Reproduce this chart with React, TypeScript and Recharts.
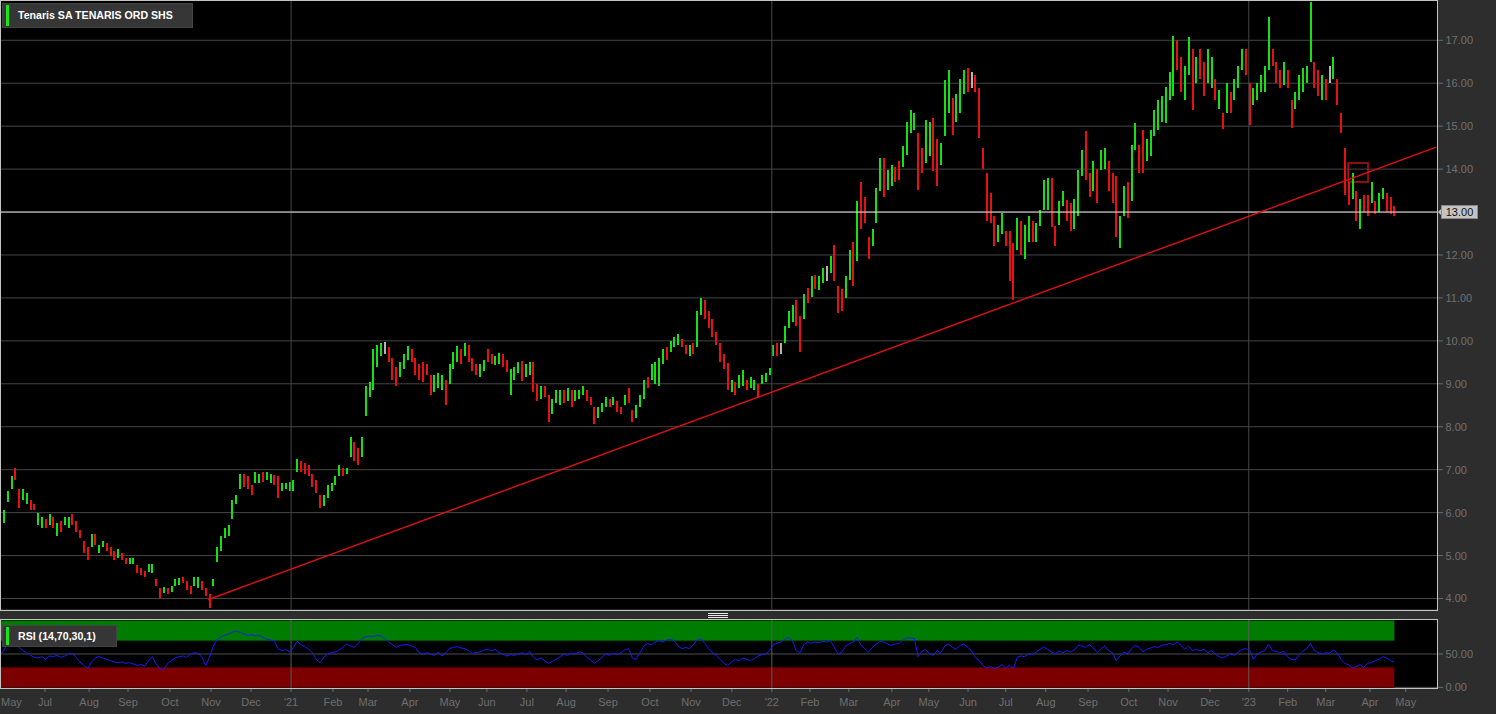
import React from 'react';
import {
  ComposedChart,
  Bar,
  Line,
  Area,
  XAxis,
  YAxis,
  CartesianGrid,
  ReferenceLine,
  ReferenceArea,
} from 'recharts';

// One bar per two trading sessions, May 2020 -> Apr 2023 (Tenaris SA)
const BAR_LOWS = [
  5.6, 5.75, 6.25, 6.55, 6.75, 6.1, 6.3, 6.2, 6.05, 6.05,
  5.7, 5.65, 5.65, 5.7, 5.65, 5.45, 5.55, 5.7, 5.65, 5.7,
  5.55, 5.4, 5.05, 4.9, 5.2, 5.25, 5.05, 5.2, 5.1, 5.0,
  4.9, 4.95, 4.9, 4.8, 4.8, 4.8, 4.6, 4.55, 4.5, 4.62,
  4.6, 4.3, 4.0, 4.12, 4.1, 4.15, 4.3, 4.32, 4.35, 4.2,
  4.1, 4.3, 4.25, 4.2, 4.05, 3.78, 4.3, 4.85, 5.1, 5.4,
  5.45, 5.85, 6.2, 6.55, 6.6, 6.55, 6.4, 6.7, 6.7, 6.72,
  6.75, 6.7, 6.65, 6.35, 6.5, 6.55, 6.5, 6.5, 6.95, 6.95,
  6.9, 6.85, 6.6, 6.45, 6.1, 6.15, 6.35, 6.5, 6.65, 6.85,
  6.85, 6.9, 7.3, 7.2, 7.1, 7.3, 8.25, 8.7, 8.85, 9.4,
  9.65, 9.7, 9.5, 9.1, 8.95, 9.15, 9.35, 9.55, 9.5, 9.2,
  9.1, 9.05, 9.2, 8.75, 8.8, 8.9, 8.85, 8.5, 9.0, 9.35,
  9.5, 9.45, 9.65, 9.5, 9.3, 9.2, 9.15, 9.3, 9.5, 9.45,
  9.43, 9.45, 9.4, 9.27, 8.73, 9.1, 9.25, 9.07, 9.15, 9.2,
  8.8, 8.6, 8.65, 8.7, 8.1, 8.3, 8.55, 8.5, 8.55, 8.6,
  8.45, 8.6, 8.65, 8.73, 8.6, 8.5, 8.07, 8.2, 8.35, 8.45,
  8.45, 8.5, 8.35, 8.3, 8.5, 8.55, 8.1, 8.2, 8.45, 8.65,
  8.9, 9.08, 9.0, 8.95, 9.45, 9.55, 9.75, 9.85, 9.9, 9.85,
  9.7, 9.65, 9.7, 9.85, 10.6, 10.5, 10.3, 10.1, 9.9, 9.5,
  9.35, 8.86, 8.8, 8.75, 8.9, 8.95, 8.85, 8.9, 8.85, 8.7,
  9.0, 9.05, 9.2, 9.64, 9.65, 9.7, 9.95, 10.3, 10.45, 10.35,
  9.75, 10.5, 10.88, 11.03, 11.2, 11.19, 11.35, 11.4, 11.58, 11.4,
  10.65, 10.7, 11.0, 11.42, 11.27, 11.85, 12.6, 12.75, 11.9, 12.2,
  12.74, 13.48, 13.36, 13.52, 13.6, 13.7, 13.75, 14.06, 14.33, 14.84,
  14.9, 13.52, 13.9, 14.14, 14.3, 13.95, 13.6, 14.1, 14.76, 15.3,
  14.8, 15.1, 15.3, 15.75, 15.8, 15.9, 15.8, 14.72, 14.0, 12.8,
  12.74, 12.2, 12.3, 12.5, 12.2, 11.4, 10.96, 12.12, 12.0, 11.9,
  12.3, 12.3, 12.3, 12.67, 13.05, 13.05, 12.65, 12.2, 12.7, 13.13,
  12.8, 12.55, 12.6, 12.9, 13.83, 13.75, 13.36, 13.5, 13.2, 13.98,
  14.0, 13.5, 13.2, 12.43, 12.16, 12.9, 12.85, 13.25, 14.45, 13.9,
  13.9, 14.2, 14.3, 14.76, 14.9, 15.1, 15.07, 15.6, 15.7, 16.3,
  15.8, 15.6, 16.2, 15.38, 16.0, 16.1, 15.7, 16.0, 15.9, 15.6,
  15.4, 14.93, 15.3, 15.3, 15.6, 15.9, 16.3, 16.2, 15.03, 15.5,
  15.6, 15.8, 15.8, 16.3, 16.4, 16.0, 15.9, 15.95, 15.9, 14.95,
  15.4, 15.6, 15.8, 16.0, 16.5, 15.9, 15.7, 15.6, 15.6, 16.0,
  16.1, 15.5, 14.84, 13.4, 13.17, 13.3, 12.8, 12.6, 13.0, 12.9,
  13.2, 12.95, 13.0, 13.3, 13.0, 12.95, 12.9,
];

const BAR_HIGHS = [
  5.9, 6.05, 6.5, 6.85, 7.05, 6.55, 6.55, 6.45, 6.3, 6.2,
  6.0, 5.9, 5.85, 5.97, 5.9, 5.75, 5.8, 5.9, 5.9, 5.97,
  5.8, 5.6, 5.35, 5.2, 5.5, 5.5, 5.25, 5.35, 5.3, 5.2,
  5.1, 5.15, 5.05, 4.95, 4.95, 4.95, 4.78, 4.7, 4.65, 4.8,
  4.8, 4.45, 4.25, 4.27, 4.25, 4.3, 4.45, 4.48, 4.5, 4.4,
  4.3, 4.5, 4.5, 4.4, 4.25, 4.1, 4.45, 5.2, 5.45, 5.65,
  5.7, 6.3, 6.4, 6.9, 6.9, 6.85, 6.65, 6.95, 6.9, 6.95,
  6.95, 6.9, 6.88, 6.85, 6.7, 6.7, 6.72, 6.75, 7.25, 7.2,
  7.15, 7.1, 6.9, 6.75, 6.4, 6.4, 6.65, 6.7, 6.85, 7.1,
  7.05, 7.05, 7.75, 7.65, 7.5, 7.75, 8.95, 9.05, 9.8, 9.9,
  9.95, 9.98, 9.85, 9.6, 9.4, 9.5, 9.7, 9.88, 9.8, 9.6,
  9.45, 9.5, 9.45, 9.2, 9.2, 9.25, 9.2, 9.1, 9.45, 9.75,
  9.88, 9.8, 9.95, 9.9, 9.6, 9.45, 9.45, 9.55, 9.8, 9.7,
  9.65, 9.72, 9.7, 9.55, 9.35, 9.4, 9.5, 9.54, 9.45, 9.5,
  9.5, 9.0, 8.95, 8.95, 8.75, 8.65, 8.85, 8.85, 8.85, 8.9,
  8.85, 8.85, 8.85, 8.96, 8.85, 8.7, 8.46, 8.45, 8.55, 8.7,
  8.65, 8.7, 8.6, 8.45, 8.75, 8.9, 8.4, 8.5, 8.75, 9.08,
  9.15, 9.45, 9.5, 9.6, 9.8, 9.85, 10.0, 10.1, 10.15, 10.05,
  9.9, 9.9, 9.95, 10.7, 11.0, 10.95, 10.7, 10.5, 10.2, 9.95,
  9.7, 9.48, 9.1, 9.05, 9.2, 9.33, 9.1, 9.15, 9.1, 9.0,
  9.2, 9.25, 9.37, 9.9, 9.95, 9.95, 10.34, 10.7, 10.84, 10.95,
  10.57, 11.1, 11.23, 11.5, 11.54, 11.5, 11.7, 11.75, 11.97, 12.24,
  11.27, 11.2, 11.5, 12.12, 12.3, 13.25, 13.7, 13.36, 12.43, 12.6,
  13.55, 14.25, 14.25, 13.98, 14.1, 14.05, 14.2, 14.53, 15.1, 15.38,
  15.3, 14.84, 14.5, 15.15, 15.1, 15.2, 14.7, 14.6, 16.08, 16.3,
  15.65, 15.75, 16.1, 16.3, 16.35, 16.25, 16.2, 15.9, 14.5, 13.9,
  13.44, 12.9, 12.7, 12.98, 12.55, 12.55, 12.28, 12.86, 12.8, 12.7,
  12.9, 12.8, 12.75, 13.05, 13.75, 13.8, 13.8, 12.67, 13.25, 13.5,
  13.29, 13.2, 13.3, 13.98, 14.45, 14.88, 13.9, 14.2, 14.0, 14.45,
  14.5, 14.2, 13.9, 13.83, 12.9, 13.6, 13.7, 14.57, 15.07, 14.57,
  14.9, 14.7, 14.9, 15.38, 15.6, 15.7, 15.92, 16.27, 17.1, 17.0,
  16.6, 16.4, 17.08, 16.8, 16.6, 16.8, 16.5, 16.8, 16.6, 16.1,
  15.85, 15.3, 16.0, 15.8, 16.1, 16.4, 16.8, 16.8, 16.0, 15.9,
  16.0, 16.2, 16.4, 17.55, 16.8, 16.5, 16.3, 16.5, 16.3, 15.6,
  15.8, 16.2, 16.35, 16.4, 17.88, 16.5, 16.3, 16.2, 16.1, 16.4,
  16.6, 16.1, 15.3, 14.5, 13.7, 13.9, 13.5, 13.3, 13.4, 13.4,
  13.7, 13.25, 13.45, 13.55, 13.45, 13.35, 13.15,
];

// g = up (green), r = down (red), w = neutral (grey)
const BAR_TONES =
  'rgggrrggrr' + 'ggrgrgrggr' + 'rrrrgrggrr' + 'rgrrggrrrg' + 'grrgrgggrr' +
  'rggrrrgggg' + 'ggggrrrggr' + 'ggrrgggggr' + 'rrrrrggggg' + 'rggrrggggg' +
  'gwrrrgggrr' + 'rrrrgggrgg' + 'grgrrrggrr' + 'ggrrgggrgg' + 'rrgrrgggrg' +
  'rgggrrrggg' + 'rgrrgrrggg' + 'rggggrgggr' + 'rgrggrrrrr' + 'rrgrggrggr' +
  'ggggrwgggr' + 'rgrgrggwgr' + 'rrggrgrrrg' + 'ggrggrrggg' + 'grrggrrggg' +
  'rgggrwrrrr' + 'rrggrrrgrg' + 'grggggrrgg' + 'rrgggrrgrg' + 'grrrggrggr' +
  'rggggggggr' + 'rggrgrrggr' + 'grgrgggrrg' + 'ggggrrrgrr' + 'gggggrrgrw' +
  'grrrrgrgrr' + 'grggrrr';

const RSI_VALUES = [
  48, 55, 68, 74, 72, 60, 55, 52, 48, 45,
  44, 46, 42, 47, 46, 48, 45, 47, 50, 51,
  45, 38, 33, 28, 38, 44, 46, 44, 42, 40,
  38, 37, 38, 36, 37, 35, 33, 34, 32, 40,
  46, 35, 28, 27, 36, 40, 44, 46, 47, 45,
  50, 52, 51, 45, 33, 45, 62, 72, 76, 78,
  80, 83, 84, 83, 80, 78, 79, 77, 78, 75,
  72, 71, 70, 58, 55, 57, 53, 60, 69, 64,
  61, 57, 52, 42, 37, 45, 50, 52, 53, 56,
  60, 65, 62, 60, 66, 73, 76, 77, 76, 78,
  77, 73, 68, 64, 60, 63, 64, 64, 62, 60,
  52, 50, 52, 50, 48, 53, 47, 52, 58, 60,
  61, 59, 58, 55, 51, 52, 53, 56, 57, 55,
  57, 52, 50, 47, 49, 48, 50, 52, 49, 54,
  45, 41, 44, 40, 36, 39, 42, 46, 50, 48,
  51, 50, 53, 52, 45, 41, 36, 40, 45, 50,
  48, 51, 49, 52, 56, 58, 44, 42, 52, 62,
  66, 64, 68, 70, 68, 71, 72, 70, 62, 58,
  60, 58, 64, 71, 73, 66, 58, 52, 48, 42,
  36, 33, 38, 42, 40, 44, 42, 40, 43, 47,
  49, 50, 55, 64, 66, 68, 72, 75, 70, 55,
  52, 64, 68, 66, 68, 67, 69, 68, 70, 60,
  50, 53, 62, 66, 68, 75, 63, 58, 53, 60,
  65, 69, 68, 65, 63, 65, 66, 71, 74, 74,
  73, 46, 54, 57, 50, 48, 55, 52, 62, 65,
  60, 57, 63, 65, 60, 55, 45, 40, 33, 29,
  31, 28, 30, 34, 29, 33, 28, 45, 47, 46,
  50, 49, 53, 57, 61, 57, 53, 50, 54, 52,
  55, 53, 56, 63, 62, 60, 64, 59, 52, 58,
  62, 55, 52, 40, 47, 53, 50, 58, 63, 60,
  53, 57, 59, 61, 60, 63, 64, 66, 64, 68,
  63, 57, 62, 55, 57, 55, 57, 52, 55, 50,
  46, 44, 47, 50, 48, 53, 57, 58, 56, 42,
  50, 53, 55, 65, 55, 54, 52, 54, 46, 42,
  41, 48, 54, 58, 66, 55, 52, 50, 52, 51,
  56, 52, 42, 36, 34, 29, 31, 34, 30, 36,
  37, 40, 42, 46, 44, 40, 38,
];

const PRICE_TICKS = [4, 5, 6, 7, 8, 9, 10, 11, 12, 13, 14, 15, 16, 17];
const RSI_TICKS = [0, 50];
const MONTH_TICKS = [
  0, 11.8, 23.4, 33.6, 44.6, 55.4, 65.9, 76.4, 87.4, 96.6, 107.6, 118.1,
  127.8, 138.3, 148.6, 159.6, 170.6, 181.4, 192.1, 202.6, 212.6, 222.8,
  234.1, 243.8, 254.1, 264, 274.5, 285.6, 296.3, 306.6, 317.6, 327.8, 338,
  348, 359.6, 369,
];
const MONTH_LABELS = [
  'May', 'Jul', 'Aug', 'Sep', 'Oct', 'Nov', 'Dec', "'21", 'Feb', 'Mar', 'Apr',
  'May', 'Jun', 'Jul', 'Aug', 'Sep', 'Oct', 'Nov', 'Dec', "'22", 'Feb', 'Mar',
  'Apr', 'May', 'Jun', 'Jul', 'Aug', 'Sep', 'Oct', 'Nov', 'Dec', "'23", 'Feb',
  'Mar', 'Apr', 'May',
];
const YEAR_STARTS = [76.4, 202.6, 327.8];
const LAST_PRICE = 13;
const TREND_POINTS = [
  { x: 54.6, y: 3.97 },
  { x: 377, y: 14.51 },
];
const ALERT_BOX = { x1: 353.9, x2: 359.1, y1: 13.7, y2: 14.14 };
const RSI_UPPER = 70;
const RSI_LOWER = 30;

const X_MAX = 377.2;
const FONT = '"Liberation Sans", Arial, sans-serif';
const TONE_COLORS: Record<string, string> = { g: '#14e014', r: '#e81010', w: '#b4b4b4' };

const priceData = BAR_LOWS.map((lo, i) => ({
  t: i,
  range: [lo, BAR_HIGHS[i]],
  tone: BAR_TONES[i],
}));

const rsiData = RSI_VALUES.map((v, i) => ({
  t: i,
  rsi: v,
  upper: [RSI_UPPER, 100],
  lower: [0, RSI_LOWER],
}));

const PriceBar = (props: any) => {
  const { x, y, width, height } = props;
  if (x == null || y == null || isNaN(x) || isNaN(y)) return null;
  const tone = props.tone ?? props.payload?.tone;
  const cx = Math.round(x + (width || 0) / 2);
  const top = Math.min(y, y + height);
  const h = Math.max(Math.abs(height), 1);
  return (
    <rect
      x={cx - 1}
      y={top}
      width={2}
      height={h}
      fill={TONE_COLORS[tone] || '#b4b4b4'}
      shapeRendering="crispEdges"
    />
  );
};

const PriceTick = (props: any) => {
  const { x, y, payload } = props;
  const v = payload.value;
  if (v === LAST_PRICE) {
    return (
      <g>
        <path d={`M${x + 1},${y} L${x + 5},${y - 4} L${x + 5},${y + 4} Z`} fill="#c4c4c4" />
        <rect x={x + 4.5} y={y - 6.5} width={36} height={13} fill="#c4c4c4" stroke="#8a8a8a" />
        <text x={x + 22.5} y={y + 4} textAnchor="middle" fontSize={11} fill="#111" fontFamily={FONT}>
          {v.toFixed(2)}
        </text>
      </g>
    );
  }
  return (
    <g>
      <line x1={x} x2={x + 6} y1={y} y2={y} stroke="#6a6a6a" />
      <text x={x + 8.5} y={y + 4} fontSize={11} fill="#707070" fontFamily={FONT}>
        {v.toFixed(2)}
      </text>
    </g>
  );
};

const RsiTick = (props: any) => {
  const { x, y, payload } = props;
  return (
    <g>
      <line x1={x} x2={x + 6} y1={y} y2={y} stroke="#6a6a6a" />
      <text x={x + 8.5} y={y + 4} fontSize={11} fill="#707070" fontFamily={FONT}>
        {payload.value.toFixed(2)}
      </text>
    </g>
  );
};

const MonthTick = (props: any) => {
  const { x, y, payload } = props;
  const idx = MONTH_TICKS.indexOf(payload.value);
  const label = MONTH_LABELS[idx] ?? '';
  if (idx === 0) {
    return (
      <text x={x + 1} y={y + 18} textAnchor="start" fontSize={11} fill="#6e6e6e" fontFamily={FONT}>
        {label}
      </text>
    );
  }
  return (
    <g>
      <line x1={x} x2={x} y1={y} y2={y + 4} stroke="#6a6a6a" />
      <text x={x} y={y + 18} textAnchor="middle" fontSize={11} fill="#6e6e6e" fontFamily={FONT}>
        {label}
      </text>
    </g>
  );
};

const legendBox = (left: number, top: number, width: number, height: number): React.CSSProperties => ({
  position: 'absolute',
  left,
  top,
  width,
  height,
  background: '#363636',
  border: '1px solid #444',
  boxSizing: 'border-box',
  color: '#fff',
  fontFamily: FONT,
  fontWeight: 'bold',
  fontSize: 10.6,
  lineHeight: `${height - 2}px`,
  paddingLeft: 15,
  whiteSpace: 'nowrap',
});

const greenMark = (height: number): React.CSSProperties => ({
  position: 'absolute',
  left: 3,
  top: 1,
  width: 3,
  height: height - 4,
  background: '#19e619',
});

export default function App() {
  return (
    <div
      style={{
        position: 'fixed',
        left: 0,
        top: 0,
        width: 1496,
        height: 714,
        background: '#2d2d2d',
        overflow: 'hidden',
      }}
    >
      <div style={{ position: 'absolute', left: 0, top: 0 }}>
        <ComposedChart width={1496} height={610} data={priceData} margin={{ top: 0, right: 0, bottom: 0, left: 0 }}>
          <CartesianGrid fill="#000" stroke="#464646" vertical={false} />
          <XAxis dataKey="t" type="number" domain={[0, X_MAX]} hide allowDataOverflow />
          <YAxis
            orientation="right"
            width={59}
            domain={[3.732, 17.938]}
            ticks={PRICE_TICKS}
            interval={0}
            tick={(p: any) => <PriceTick {...p} />}
            tickLine={false}
            axisLine={false}
            tickSize={0}
            tickMargin={0}
            allowDataOverflow
          />
          {YEAR_STARTS.map((v) => (
            <ReferenceLine key={v} x={v} stroke="#464646" />
          ))}
          <ReferenceLine y={LAST_PRICE} stroke="#e4e4e4" />
          <Bar dataKey="range" barSize={2} shape={(p: any) => <PriceBar {...p} />} isAnimationActive={false} />
          <ReferenceLine segment={TREND_POINTS} stroke="#e01010" strokeWidth={1.4} ifOverflow="visible" />
          <ReferenceArea
            x1={ALERT_BOX.x1}
            x2={ALERT_BOX.x2}
            y1={ALERT_BOX.y1}
            y2={ALERT_BOX.y2}
            fill="none"
            fillOpacity={0}
            stroke="#b81414"
            strokeWidth={1.5}
            ifOverflow="visible"
          />
        </ComposedChart>
      </div>

      <div style={{ position: 'absolute', left: 0, top: 619 }}>
        <ComposedChart width={1496} height={95} data={rsiData} margin={{ top: 0, right: 0, bottom: 0, left: 0 }}>
          <CartesianGrid fill="#000" stroke="#4c4c4c" vertical={false} />
          <XAxis
            dataKey="t"
            type="number"
            domain={[0, X_MAX]}
            ticks={MONTH_TICKS}
            interval={0}
            tick={(p: any) => <MonthTick {...p} />}
            tickLine={false}
            axisLine={false}
            tickSize={0}
            tickMargin={0}
            height={26}
            allowDataOverflow
          />
          <YAxis
            orientation="right"
            width={59}
            domain={[-1, 102.5]}
            ticks={RSI_TICKS}
            interval={0}
            tick={(p: any) => <RsiTick {...p} />}
            tickLine={false}
            axisLine={false}
            tickSize={0}
            tickMargin={0}
            allowDataOverflow
          />
          <Area
            dataKey="upper"
            type="linear"
            fill="#007c00"
            fillOpacity={1}
            stroke="#004a00"
            strokeWidth={1}
            isAnimationActive={false}
          />
          <Area
            dataKey="lower"
            type="linear"
            fill="#7c0000"
            fillOpacity={1}
            stroke="#4a0000"
            strokeWidth={1}
            isAnimationActive={false}
          />
          {YEAR_STARTS.map((v) => (
            <ReferenceLine key={v} x={v} stroke="#5a5a5a" />
          ))}
          <Line
            dataKey="rsi"
            type="linear"
            stroke="#1a1aff"
            strokeWidth={1}
            dot={false}
            isAnimationActive={false}
          />
        </ComposedChart>
      </div>

      {/* panel borders */}
      <div
        style={{
          position: 'absolute',
          left: 0,
          top: 0,
          width: 1438,
          height: 611,
          border: '1px solid #c4c4c4',
          boxSizing: 'border-box',
          pointerEvents: 'none',
        }}
      />
      <div
        style={{
          position: 'absolute',
          left: 0,
          top: 619,
          width: 1438,
          height: 70,
          border: '1px solid #c4c4c4',
          boxSizing: 'border-box',
          pointerEvents: 'none',
        }}
      />

      {/* splitter handle */}
      <div style={{ position: 'absolute', left: 708, top: 613, width: 20 }}>
        <div style={{ height: 1, background: '#e8e8e8', marginBottom: 1 }} />
        <div style={{ height: 1, background: '#e8e8e8', marginBottom: 1 }} />
        <div style={{ height: 1, background: '#e8e8e8' }} />
      </div>

      {/* legends */}
      <div style={legendBox(2, 3, 191, 25)}>
        <div style={greenMark(25)} />
        Tenaris SA TENARIS ORD SHS
      </div>
      <div style={legendBox(2, 625, 115, 22)}>
        <div style={greenMark(22)} />
        RSI (14,70,30,1)
      </div>
    </div>
  );
}
